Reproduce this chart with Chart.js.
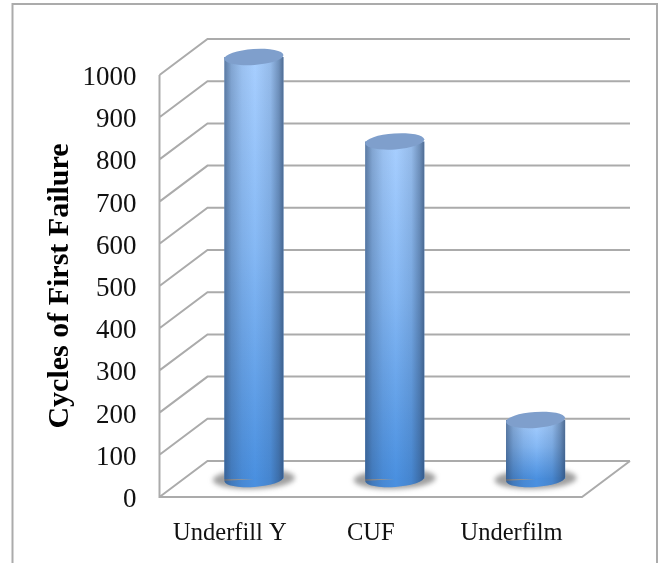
<!DOCTYPE html>
<html>
<head>
<meta charset="utf-8">
<title>Cycles of First Failure</title>
<script src="https://cdn.jsdelivr.net/npm/chart.js@4"></script>
<style>
    html, body { margin: 0; padding: 0; background: #fff; overflow: hidden; }
    #wrap { position: relative; width: 661px; height: 563px; }
</style>
</head>
<body>
<div id="wrap"><canvas id="chartCiclos" width="661" height="563"></canvas></div>
<script>
const categories = ['Underfill Y', 'CUF', 'Underfilm'];
const cycles = [1000, 800, 140];
const tickValues = [0, 100, 200, 300, 400, 500, 600, 700, 800, 900, 1000];
const axisTitle = 'Cycles of First Failure';

const depthX = 48;
const depthY = -36;
const wallColor = '#ababab';
const textFont = '"Liberation Serif", serif';

// keeps the 3d look: walls behind, bars pushed half way into the depth
const cylinderPlugin = {
    id: 'cylinders',
    beforeDraw(chart) {
        const c = chart.ctx;
        c.save();
        c.strokeStyle = wallColor;
        c.lineWidth = 2;
        c.beginPath();
        c.moveTo(12.5, 563);
        c.lineTo(12.5, 4);
        c.lineTo(657, 4);
        c.lineTo(657, 563);
        c.stroke();
        c.restore();
    },
    beforeDatasetsDraw(chart) {
        const c = chart.ctx;
        const area = chart.chartArea;
        const y = chart.scales.y;
        c.save();
        c.strokeStyle = wallColor;
        c.lineWidth = 2;
        c.beginPath();
        tickValues.forEach(value => {
            const py = y.getPixelForValue(value);
            c.moveTo(area.left, py);
            c.lineTo(area.left + depthX, py + depthY);
            c.lineTo(area.right + depthX, py + depthY);
        });
        c.moveTo(area.left, y.getPixelForValue(1000));
        c.lineTo(area.left, y.getPixelForValue(0));
        c.lineTo(area.right, y.getPixelForValue(0));
        c.lineTo(area.right + depthX, y.getPixelForValue(0) + depthY);
        c.stroke();

        // soft shadow on the floor
        chart.getDatasetMeta(0).data.forEach(bar => {
            c.save();
            c.filter = 'blur(2.5px)';
            c.fillStyle = 'rgba(90,90,90,0.58)';
            c.beginPath();
            c.ellipse(bar.x + depthX / 2, bar.base + depthY / 2, 41, 10, -0.03, 0, Math.PI * 2);
            c.fill();
            c.restore();
        });
        c.restore();
    },
    beforeDatasetDraw(chart) {
        chart.ctx.save();
        chart.ctx.translate(depthX / 2, depthY / 2);
    },
    afterDatasetDraw(chart) {
        const c = chart.ctx;
        chart.getDatasetMeta(0).data.forEach(bar => {
            const half = bar.width / 2;
            const tilt = -0.07;

            // rounded bottom in the darkest fill colour
            c.fillStyle = '#4a90e0';
            c.beginPath();
            c.ellipse(bar.x, bar.base, half, 8, tilt, 0, Math.PI);
            c.fill();

            // side shading over the whole body
            const shade = c.createLinearGradient(bar.x - half, 0, bar.x + half, 0);
            shade.addColorStop(0, 'rgba(45,70,105,0.62)');
            shade.addColorStop(0.12, 'rgba(45,70,105,0.3)');
            shade.addColorStop(0.3, 'rgba(45,70,105,0.1)');
            shade.addColorStop(0.52, 'rgba(45,70,105,0)');
            shade.addColorStop(0.78, 'rgba(45,70,105,0.15)');
            shade.addColorStop(0.92, 'rgba(45,70,105,0.45)');
            shade.addColorStop(1, 'rgba(45,70,105,0.72)');
            c.fillStyle = shade;
            c.beginPath();
            c.moveTo(bar.x - half, bar.y);
            c.lineTo(bar.x - half, bar.base);
            c.ellipse(bar.x, bar.base, half, 8, tilt, Math.PI, 0, true);
            c.lineTo(bar.x + half, bar.y);
            c.closePath();
            c.fill();

            // flat cap
            c.fillStyle = '#7f9fcc';
            c.beginPath();
            c.ellipse(bar.x, bar.y, half, 8, tilt, 0, Math.PI * 2);
            c.fill();
        });
        c.restore();
    }
};

function barFill(context) {
    const chart = context.chart;
    if (!chart.chartArea || context.raw === undefined) {
        return '#7fb2f0';
    }
    const yScale = chart.scales.y;
    const grad = chart.ctx.createLinearGradient(0, yScale.getPixelForValue(context.raw), 0, yScale.getPixelForValue(0));
    grad.addColorStop(0, '#a8cfff');
    grad.addColorStop(0.45, '#86b9f5');
    grad.addColorStop(1, '#4a90e0');
    return grad;
}

const grafico = new Chart(document.getElementById('chartCiclos').getContext('2d'), {
    type: 'bar',
    data: {
        labels: categories,
        datasets: [{
            label: axisTitle,
            data: cycles,
            backgroundColor: barFill,
            borderWidth: 0,
            categoryPercentage: 1,
            barPercentage: 0.42
        }]
    },
    options: {
        responsive: false,
        animation: false,
        layout: { padding: { left: 40, right: 79, top: 75, bottom: 0 } },
        plugins: { legend: { display: false }, tooltip: { enabled: false } },
        scales: {
            x: {
                grid: { display: false },
                border: { display: false },
                afterFit(scale) { scale.height = 66; },
                ticks: {
                    padding: 14,
                    maxRotation: 0,
                    color: '#111',
                    font: { family: textFont, size: 24.5 }
                }
            },
            y: {
                min: 0,
                max: 1000,
                grid: { display: false },
                border: { display: false },
                afterFit(scale) { scale.width = 119.5; },
                afterBuildTicks(scale) { scale.ticks = tickValues.map(value => ({ value: value })); },
                title: {
                    display: true,
                    text: axisTitle,
                    color: '#000',
                    padding: { top: 2, bottom: 0 },
                    font: { family: textFont, size: 30, weight: 'bold' }
                },
                ticks: {
                    padding: 15,
                    labelOffset: 3,
                    color: '#111',
                    font: { family: textFont, size: 27 },
                    callback: value => String(value)
                }
            }
        }
    },
    plugins: [cylinderPlugin]
});
</script>
</body>
</html>
